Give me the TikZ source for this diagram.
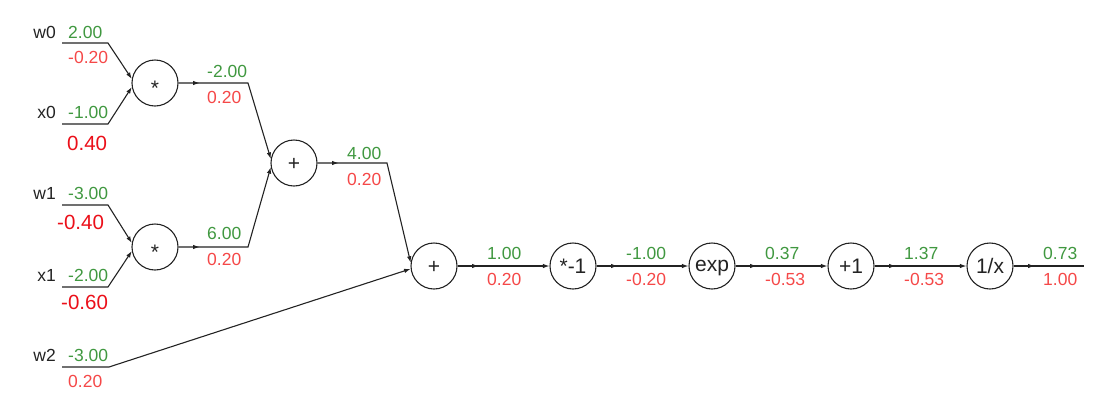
\documentclass[tikz,border=0pt]{standalone}
\usepackage{fontspec}
\setmainfont{Liberation Sans}
\usetikzlibrary{arrows.meta,decorations.markings}
\definecolor{gval}{RGB}{64,152,64}
\definecolor{rval}{RGB}{245,72,72}
\definecolor{rbig}{RGB}{235,15,25}
\definecolor{ink}{RGB}{35,35,35}
\begin{document}
\begin{tikzpicture}[x=1pt,y=-1pt,
  op/.style={circle,draw=ink,line width=1.1pt,minimum size=46pt,inner sep=0pt,text height=15pt,text depth=0pt,font=\fontsize{21}{21}\selectfont,text=ink},
  gv/.style={anchor=west,inner sep=0pt,text=gval,font=\fontsize{17.5}{17.5}\selectfont},
  rv/.style={gv,text=rval},
  rb/.style={anchor=west,inner sep=0pt,text=rbig,font=\fontsize{20.5}{20.5}\selectfont},
  nm/.style={anchor=east,inner sep=0pt,text=ink,font=\fontsize{17.5}{17.5}\selectfont},
  wire/.style={draw=ink,line width=1.1pt},
  tip/.style={-{Latex[length=6.5pt,width=4.5pt]}},
  midarr/.style={postaction={decorate},decoration={markings,mark=at position 21pt with {\arrow{Latex[length=6.5pt,width=4.5pt]}}}}
]
\useasboundingbox (0,0) rectangle (1096,408);

% operation nodes
\node[op] (mul0) at (155,83) {\raisebox{-4.7pt}{*}};
\node[op] (mul1) at (155,247) {\raisebox{-4.7pt}{*}};
\node[op] (add0) at (294,163) {+};
\node[op] (add1) at (434,266) {+};
\node[op] (neg)  at (573,266) {*-1};
\node[op] (ex)   at (712,266) {\raisebox{2.5pt}{exp}};
\node[op] (pone) at (851,266) {+1};
\node[op] (inv)  at (990,266) {1/x};

% input wires
\coordinate (w0s) at (62,43);  \coordinate (w0e) at (108,43);
\coordinate (x0s) at (62,124); \coordinate (x0e) at (108,124);
\coordinate (w1s) at (62,205); \coordinate (w1e) at (108,205);
\coordinate (x1s) at (62,287); \coordinate (x1e) at (108,287);
\coordinate (w2s) at (62,367); \coordinate (w2e) at (109,367);
\coordinate (b0) at (248,83);
\coordinate (b1) at (248,247);
\coordinate (b2) at (387,163);
\coordinate (fin) at (1084,266);

\draw[wire,tip] (w0s) -- (w0e) -- (mul0.170);
\draw[wire,tip] (x0s) -- (x0e) -- (mul0.190);
\draw[wire,tip] (w1s) -- (w1e) -- (mul1.170);
\draw[wire,tip] (x1s) -- (x1e) -- (mul1.190);
\draw[wire,tip] (w2s) -- (w2e) -- (add1.187);
\draw[wire,tip,midarr] (mul0.east) -- (b0) -- (add0.170);
\draw[wire,tip,midarr] (mul1.east) -- (b1) -- (add0.190);
\draw[wire,tip,midarr] (add0.east) -- (b2) -- (add1.172);
\draw[wire,tip,midarr] (add1) -- (neg);
\draw[wire,tip,midarr] (neg) -- (ex);
\draw[wire,tip,midarr] (ex) -- (pone);
\draw[wire,tip,midarr] (pone) -- (inv);
\draw[wire,midarr] (inv.east) -- (fin);

% input names and values
\node[nm] (nw0) at (56,32) {w0};
\node[gv] (gw0) at (68,32) {2.00};
\node[rv] (rw0) at (68,57) {-0.20};
\node[nm] (nx0) at (56,112) {x0};
\node[gv] (gx0) at (68,112) {-1.00};
\node[rb] (rx0) at (67,143) {0.40};
\node[nm] (nw1) at (56,193) {w1};
\node[gv] (gw1) at (68,193) {-3.00};
\node[rb] (rw1) at (57,222) {-0.40};
\node[nm] (nx1) at (56,275) {x1};
\node[gv] (gx1) at (68,275) {-2.00};
\node[rb] (rx1) at (61,302) {-0.60};
\node[nm] (nw2) at (56,355) {w2};
\node[gv] (gw2) at (68,355) {-3.00};
\node[rv] (rw2) at (68,381) {0.20};

% intermediate values
\node[gv] (gm0) at (207,71) {-2.00};
\node[rv] (rm0) at (207,97) {0.20};
\node[gv] (gm1) at (207,233) {6.00};
\node[rv] (rm1) at (207,259) {0.20};
\node[gv] (ga0) at (347,153) {4.00};
\node[rv] (ra0) at (347,179) {0.20};
\node[gv] (ga1) at (487,253) {1.00};
\node[rv] (ra1) at (487,279) {0.20};
\node[gv] (gn) at (626,253) {-1.00};
\node[rv] (rn) at (626,279) {-0.20};
\node[gv] (ge) at (765,253) {0.37};
\node[rv] (re) at (765,279) {-0.53};
\node[gv] (gp) at (904,253) {1.37};
\node[rv] (rp) at (904,279) {-0.53};
\node[gv] (gi) at (1043,253) {0.73};
\node[rv] (ri) at (1043,279) {1.00};
\end{tikzpicture}
\end{document}
